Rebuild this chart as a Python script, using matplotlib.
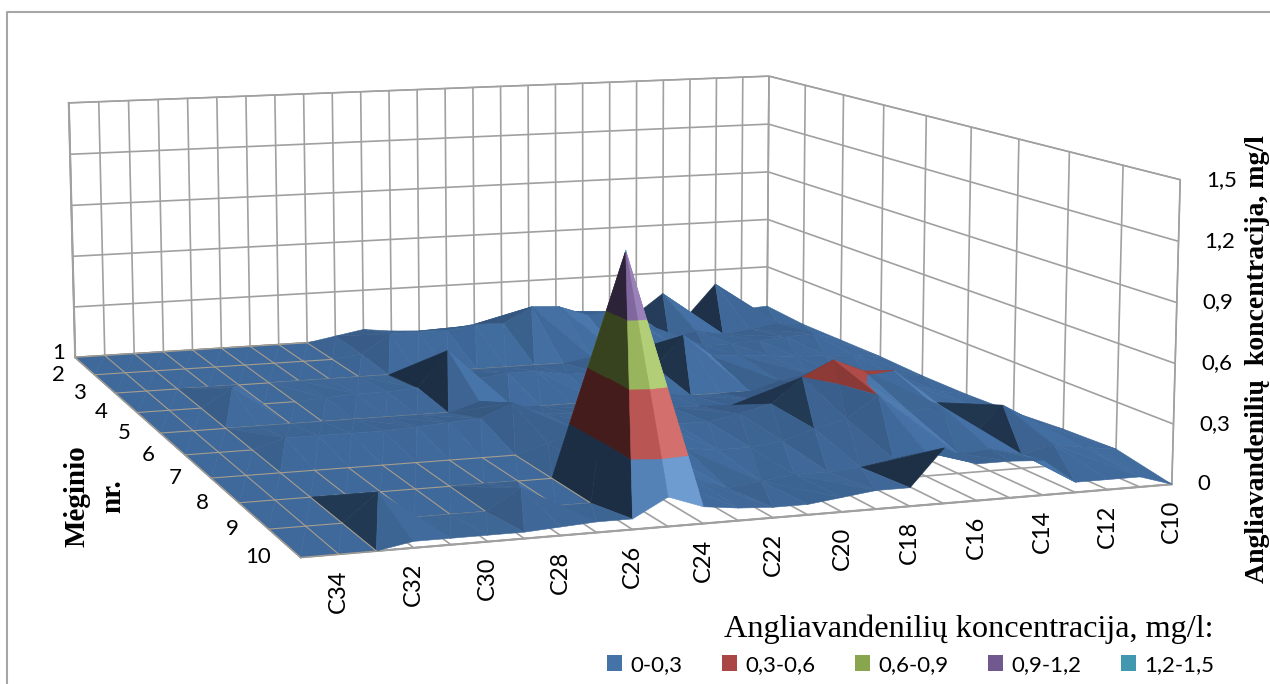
import numpy as np
import matplotlib
matplotlib.use('Agg')
import matplotlib.pyplot as plt
from matplotlib.lines import Line2D
from matplotlib.patches import Patch
from mpl_toolkits.mplot3d import proj3d
from mpl_toolkits.mplot3d.art3d import Poly3DCollection

carbons = ['C%d' % c for c in range(10, 36)]
samples = list(range(1, 11))
z_ticks = [0, 0.3, 0.6, 0.9, 1.2, 1.5]
z_labels = ['0', '0,3', '0,6', '0,9', '1,2', '1,5']
band_labels = ['0-0,3', '0,3-0,6', '0,6-0,9', '0,9-1,2', '1,2-1,5']
band_colors = ['#4572A7', '#AA4643', '#89A54E', '#71588F', '#4198AF']

# one list per sample, C10 ... C35
sample_1 = [.05, .04, .21, .03, .17, .05, .08, .06, .10, .10, .08, .05, .03, .03, .04, .06, .03, 0, 0, 0, 0, 0, 0, 0, 0, 0]
sample_2 = [.03, .05, .02, 0, .03, 0, .10, .18, .17, .23, .24, .15, .15, .13, .13, .13, .02, 0, 0, 0, 0, 0, 0, 0, 0, 0]
sample_3 = [.03, .08, .07, .06, .05, .05, .06, .06, .03, .03, 0, 0, 0, 0, 0, 0, 0, 0, 0, 0, 0, 0, 0, 0, 0, 0]
sample_4 = [.03, .05, .06, .06, .08, .09, .10, .23, .06, .05, .05, .05, .08, .08, .06, .23, .03, .02, .02, .01, 0, 0, .10, 0, 0, 0]
sample_5 = [.02, .04, .06, .08, .08, .05, 0, 0, 0, .03, .04, 0, 0, 0, .02, .05, 0, 0, 0, 0, 0, 0, 0, 0, 0, 0]
sample_6 = [.02, .05, .10, .13, .15, .15, .12, .07, .05, .06, .07, .08, .08, .07, .08, .15, .08, .07, .06, .05, .05, .05, .05, 0, 0, 0]
sample_7 = [.03, .05, .08, .12, .30, .31, .38, .30, .17, .13, .10, .10, .14, .12, .10, .05, 0, 0, 0, 0, 0, 0, 0, 0, 0, 0]
sample_8 = [.05, .10, .20, .05, .22, .20, .30, .19, .15, .10, .08, .08, .10, .12, .10, .05, 0, 0, 0, 0, 0, 0, 0, 0, 0, 0]
sample_9 = [.06, .08, .11, .07, .11, .10, .12, .10, .07, .06, .06, .04, .02, .08, .10, 1.21, 0, 0, .10, 0, 0, 0, .135, 0, 0, 0]
sample_10 = [0, .05, .05, .05, .17, .18, .18, .27, .09, .09, .07, .05, .05, .06, .08, .14, .05, .05, .04, .03, .03, .03, .03, 0, 0, 0]
values = np.array([sample_1, sample_2, sample_3, sample_4, sample_5, sample_6, sample_7, sample_8, sample_9, sample_10])

W, H = 1270, 684
fig = plt.figure(figsize=(W / 100, H / 100), dpi=100)
ax = fig.add_subplot(projection='3d')
ax.set_xlim(0, 25, view_margin=0)
ax.set_ylim(1, 10, view_margin=0)
ax.set_zlim(0, 1.5, view_margin=0)

# camera fitted to the corners of the reference box
bx, by, bz = 1, 1.1728, 0.34188
side = 1259.4
ax.view_init(9.2746, 70.66474, 0.0724)
ax.set_box_aspect((bx, by, bz))
ax.set_proj_type('persp', focal_length=0.50209)
ax.set_position([(556.2 - side / 2) / W, (H - 294.31 - side / 2) / H, side / W, side / H])
ax.apply_aspect()
proj = ax.get_proj()

ax.computed_zorder = False
for axis in (ax.xaxis, ax.yaxis, ax.zaxis):
    axis.set_pane_color((1, 1, 1, 1))
    axis._axinfo['grid'].update(color='#a0a0a0', linewidth=1.2)
    axis._axinfo['tick'].update(inward_factor=0, outward_factor=0)
    axis.line.set_color('#a0a0a0')
    axis.line.set_linewidth(1.5)
    axis.pane.set_edgecolor('#a0a0a0')
ax.set_xticks(range(26))
ax.set_yticks(samples)
ax.set_zticks(z_ticks)
ax.set_xticklabels([])
ax.set_yticklabels([])
ax.set_zticklabels([])
ax.grid(True)

band_edges = [0, .3, .6, .9, 1.2, 1.5]
wx, wy, wz = bx / 25, by / 9, bz / 1.5


def clip_band(tri, lo, hi):
    poly = list(tri)
    for level, keep_above in ((lo, True), (hi, False)):
        out = []
        for i in range(len(poly)):
            a, b = poly[i], poly[(i + 1) % len(poly)]
            ina = a[2] >= level if keep_above else a[2] <= level
            inb = b[2] >= level if keep_above else b[2] <= level
            if ina:
                out.append(a)
            if ina != inb:
                t = (level - a[2]) / (b[2] - a[2])
                out.append(tuple(a[k] + t * (b[k] - a[k]) for k in range(3)))
        poly = out
        if not poly:
            break
    return poly


def shade(tri):
    a, b, c = [np.array(v) * (wx, wy, wz) for v in tri]
    n = np.cross(b - a, c - a)
    n = n / np.linalg.norm(n)
    if n[2] < 0:
        n = -n
    # only the steep faces turned to the left go really dark
    dark = .525 + 1.12 * (n[0] - .61) if n[0] > .55 else .35 * max(n[0], 0)
    k = 1.42 - dark - .5 * n[2] + 1.15 * n[1] * max(-n[0], 0)
    k += .04 * n[1] if n[1] > 0 else .4 * n[1]
    return np.clip(k, .4, 1.45)


def lit(color, k):
    if k > 1:
        return tuple(np.clip(color + (k - 1) * .42, 0, 1))
    return tuple(color * k)


rgb = [np.array(matplotlib.colors.to_rgb(c)) for c in band_colors]
for r in range(9):
    polys, cols = [], []
    for c in range(25):
        pa = (c, r + 1, values[r, c])
        pb = (c + 1, r + 1, values[r, c + 1])
        pc = (c + 1, r + 2, values[r + 1, c + 1])
        pd = (c, r + 2, values[r + 1, c])
        if max(pa[2], pc[2]) >= max(pb[2], pd[2]):
            tris = [(pa, pb, pc), (pa, pc, pd)]
        else:
            tris = [(pa, pb, pd), (pb, pc, pd)]
        for tri in tris:
            k = shade(tri)
            for b in range(5):
                poly = clip_band(tri, band_edges[b], band_edges[b + 1])
                if len(poly) >= 3:
                    polys.append(poly)
                    cols.append(lit(rgb[b], k))
    col = Poly3DCollection(polys, facecolors=cols, edgecolors=cols, linewidths=.4)
    col.set_zorder(10 + r)
    ax.add_collection3d(col, autolim=False)

# floor grid shows through where the surface lies at zero
line_kw = {'color': '#a59d8f', 'linewidth': .8}
for r in range(10):
    for c in range(26):
        if values[r, c] != 0:
            continue
        if c < 25 and values[r, c + 1] == 0:
            clear = r == 9 or (values[r + 1, c] == 0 and values[r + 1, c + 1] == 0)
            ax.plot([c, c + 1], [r + 1, r + 1], [0, 0], zorder=10 + (r if clear else r - 1) + .6, **line_kw)
        if r < 9 and values[r + 1, c] == 0:
            ax.plot([c, c], [r + 1, r + 2], [0, 0], zorder=10 + r + .6, **line_kw)


def tick_label(x, y, z, text, dx, dy, **kw):
    xp, yp, _ = proj3d.proj_transform(x, y, z, proj)
    ax.annotate(text, xy=(xp, yp), xycoords='data', xytext=(dx, dy), textcoords='offset pixels',
                annotation_clip=False, zorder=40, **kw)


for i, name in enumerate(carbons):
    if i % 2 == 0 and i < 25:
        tick_label(i, 10, 0, name, 0, -15, rotation=90, ha='center', va='top', fontsize=17,
                   family=['Liberation Sans Narrow', 'Lato'])
for s in samples:
    tick_label(25, s, 0, str(s), -10 if s == 1 else -30, 4 if s == 1 else 0, ha='right', va='center', fontsize=16,
               family='Lato')
for z, lab in zip(z_ticks, z_labels):
    tick_label(0, 10, z, lab, 26, 0, ha='left', va='center', fontsize=16, family='Lato')

serif = 'Liberation Serif'
fig.text(95 / W, 1 - 496 / H, 'Mėginio\nnr.', rotation=90, ha='center', va='center', family=serif,
         fontweight='bold', fontsize=21, linespacing=1.4)
fig.text(1258 / W, 1 - 359 / H, 'Angliavandenilių  koncentracija, mg/l', rotation=90, ha='center', va='center',
         family=serif, fontweight='bold', fontsize=20)

handles = [Patch(facecolor=c) for c in band_colors]
fig.legend(handles, band_labels, ncol=5, loc='lower right', bbox_to_anchor=(1214 / W, 9 / H), frameon=False,
           prop={'family': 'Lato', 'size': 16}, handlelength=.7, handleheight=.7, handletextpad=.35,
           columnspacing=1.78, borderpad=0, borderaxespad=0,
           title='Angliavandenilių koncentracija, mg/l:', title_fontproperties={'family': serif, 'size': 23.2},
           alignment='right')

fig.add_artist(Line2D([7 / W, 7 / W, 1], [0, 1 - 11.5 / H, 1 - 11.5 / H], color='#a6a6a6', linewidth=1.5))
fig.savefig('out.png', dpi=100)
